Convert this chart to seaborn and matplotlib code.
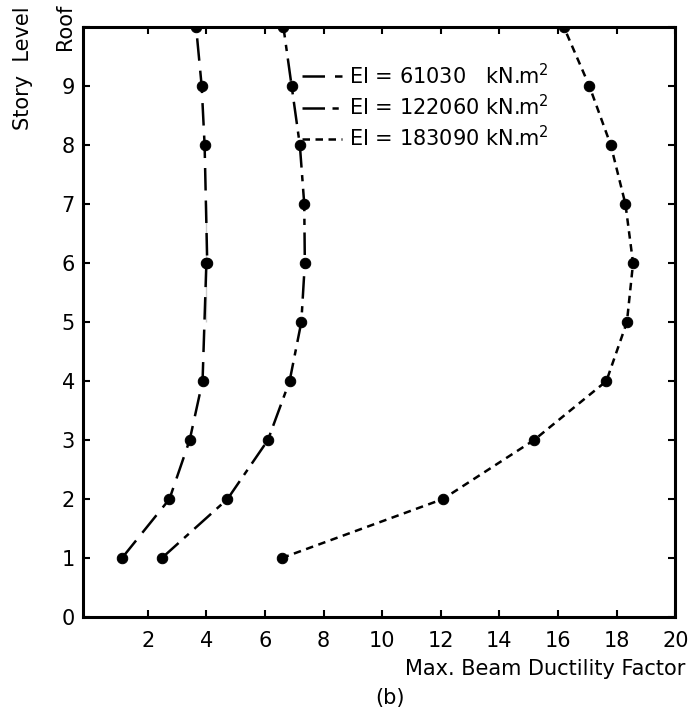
import numpy as np
import pandas as pd
import matplotlib
matplotlib.use("Agg")
import matplotlib.pyplot as plt
import seaborn as sns
from matplotlib.lines import Line2D

# story levels (10 = roof)
levels = [1, 2, 3, 4, 5, 6, 7, 8, 9, 10]
duct_61030 = [1.12, 2.74, 3.43, 3.87, 4.0, 4.03, 4.0, 3.94, 3.84, 3.65]
duct_122060 = [2.48, 4.72, 6.1, 6.84, 7.24, 7.36, 7.34, 7.19, 6.91, 6.63]
duct_183090 = [6.57, 12.07, 15.18, 17.65, 18.35, 18.56, 18.3, 17.8, 17.07, 16.2]

labels = ["EI = 61030   kN.m$^{2}$",
          "EI = 122060 kN.m$^{2}$",
          "EI = 183090 kN.m$^{2}$"]
x_ticks = [2, 4, 6, 8, 10, 12, 14, 16, 18, 20]
y_ticks = [0, 1, 2, 3, 4, 5, 6, 7, 8, 9, 10]
y_ticklabels = ["0", "1", "2", "3", "4", "5", "6", "7", "8", "9", "Roof"]

sns.set_style("ticks")
plt.rcParams["font.family"] = ["DejaVu Sans"]
for k in ["text.color", "axes.labelcolor", "xtick.color", "ytick.color",
          "axes.edgecolor"]:
    plt.rcParams[k] = "black"

styles = [(0, (9, 4)), (0, (9, 3, 2.5, 3)), (0, (3, 2.2))]
series = [duct_61030, duct_122060, duct_183090]

fig = plt.figure(figsize=(6.94, 7.15), dpi=100)
ax = fig.add_axes([0.12, 0.137, 0.853, 0.825])

for vals, ls in zip(series, styles):
    sns.lineplot(x=vals, y=levels, sort=False, color="black", linewidth=1.8,
                 linestyle=ls, marker="o", markersize=7.5,
                 markeredgecolor="black", ax=ax, legend=False)

ax.set_xlim(-0.2, 20)
ax.set_ylim(0, 10)
ax.set_xticks(x_ticks)
ax.set_yticks(y_ticks)
ax.set_yticklabels(y_ticklabels)
for t in ax.get_yticklabels():
    if t.get_text() == "Roof":
        t.set_rotation(90)
        t.set_va("center")
ax.tick_params(direction="in", length=5, width=1.5, top=True, right=True,
               labelsize=15)
ax.tick_params(axis="x", pad=10)
ax.tick_params(axis="y", pad=6)
for s in ax.spines.values():
    s.set_visible(True)
    s.set_linewidth(2.2)
    s.set_color("black")
ax.set_xlabel("")
ax.set_ylabel("Story  Level", fontsize=15)
ax.yaxis.set_label_coords(-0.085, 0.93)

handles = [Line2D([], [], color="black", lw=1.8, linestyle=ls) for ls in styles]
ax.legend(handles, labels, loc="upper left", bbox_to_anchor=(0.37, 0.94),
          frameon=False, fontsize=15, handlelength=1.9, handletextpad=0.35,
          labelspacing=0.28, borderpad=0, borderaxespad=0)

fig.text(0.987, 0.064, "Max. Beam Ductility Factor", ha="right", va="center",
         fontsize=15)
fig.text(0.562, 0.024, "(b)", ha="center", va="center", fontsize=15)

fig.savefig("out.png", dpi=100)
